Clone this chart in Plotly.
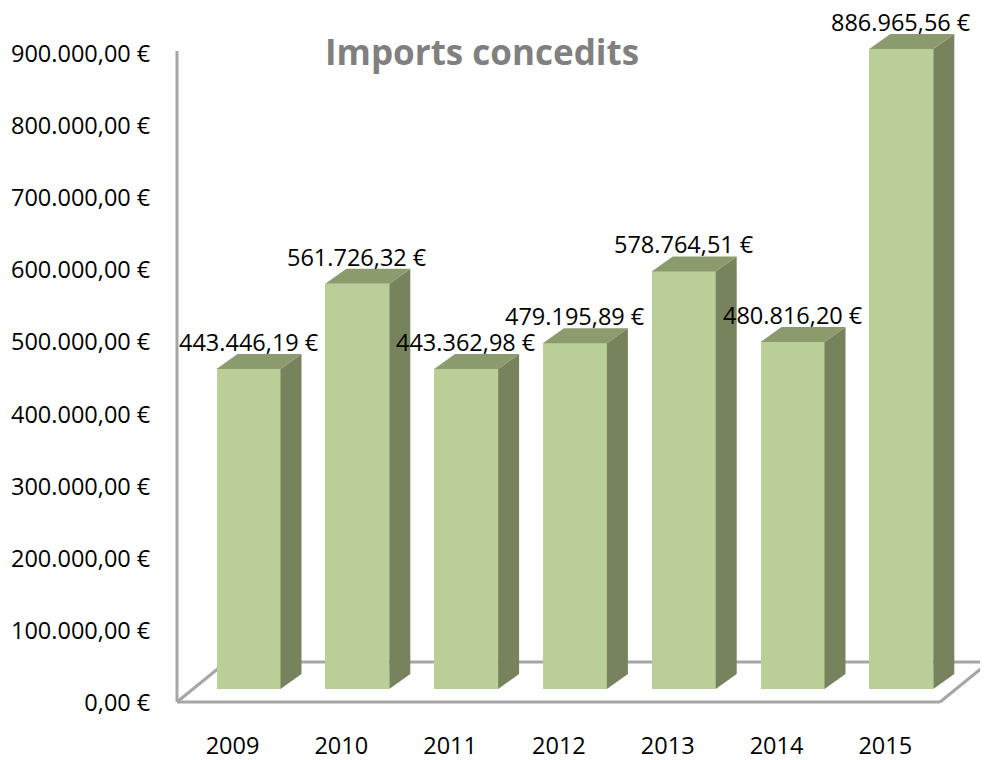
import plotly.graph_objects as go

years = ["2009", "2010", "2011", "2012", "2013", "2014", "2015"]
values = [443446.19, 561726.32, 443362.98, 479195.89, 578764.51, 480816.20, 886965.56]
title_text = "Imports concedits"
y_ticks = [0, 100000, 200000, 300000, 400000, 500000, 600000, 700000, 800000, 900000]

OFF = 8  # page body margin of the html page
W, H = 988 - OFF, 760 - OFF
ML, MR, MT, MB = 152, 0, 0, 42
PW, PH = W - ML - MR, H - MT - MB

# pixel geometry (figure pixels) of the pseudo-3D projection
X0, XSTEP = 248.5 - OFF, 108.8   # px of first category centre, px per category
Y0, K = 689.0 - OFF, 0.0007215   # px of value 0 (front plane), px per euro
Y0_AXIS = 703.0 - OFF            # px of value 0 for axis labels (front edge)


def px2x(px):
    return (px - OFF - X0) / XSTEP


def px2y(py):
    return (Y0 - (py - OFF)) / K


x_range = [(ML - X0) / XSTEP, (ML + PW - X0) / XSTEP]
y_range = [(Y0 - (MT + PH)) / K, (Y0 - MT) / K]
y2_range = [(Y0_AXIS - (MT + PH)) / K, (Y0_AXIS - MT) / K]

BAR_W = 64 / XSTEP
DX = 21 / XSTEP
DY = 15 / K

FRONT = "#BACF97"
SIDE = "#77835D"
TOP = "#8C9B6E"
LINE = "#A6A6A6"
FONT = "Open Sans"
FS = 23.5


def fmt(v):
    s = f"{v:,.2f}"
    return s.replace(",", "X").replace(".", ",").replace("X", ".") + " €"


fig = go.Figure()
idx = list(range(len(years)))

fig.add_trace(go.Bar(x=idx, y=values, width=BAR_W, marker=dict(color=FRONT, line=dict(width=0)),
                     hoverinfo="skip", showlegend=False))

for i, v in zip(idx, values):
    xl, xr = i - BAR_W / 2, i + BAR_W / 2
    # side face
    fig.add_trace(go.Scatter(x=[xr, xr, xr + DX, xr + DX, xr], y=[0, v, v + DY, DY, 0],
                             fill="toself", fillcolor=SIDE, mode="lines", line=dict(width=0, color=SIDE),
                             hoverinfo="skip", showlegend=False))
    # top face
    fig.add_trace(go.Scatter(x=[xl, xr, xr + DX, xl + DX, xl], y=[v, v, v + DY, v + DY, v],
                             fill="toself", fillcolor=TOP, mode="lines", line=dict(width=0, color=TOP),
                             hoverinfo="skip", showlegend=False))
    fig.add_annotation(x=i, y=v, xref="x", yref="y", text=fmt(v), showarrow=False,
                       yshift=27, yanchor="middle", xanchor="center",
                       font=dict(family=FONT, size=FS, color="#000000"))

# invisible trace to carry the label axis
fig.add_trace(go.Scatter(x=[0], y=[0], yaxis="y2", mode="markers", marker=dict(opacity=0),
                         hoverinfo="skip", showlegend=False))


# walls / floor outline (reference pixel positions)
def seg(p1, p2):
    fig.add_shape(type="line", xref="x", yref="y", layer="below",
                  x0=px2x(p1[0]), y0=px2y(p1[1]), x1=px2x(p2[0]), y1=px2y(p2[1]),
                  line=dict(color=LINE, width=3))


seg((177, 51), (177, 702))
seg((177, 702), (940, 702))
seg((177, 702), (225, 663))
seg((940, 702), (988, 663))
seg((225, 662), (988, 662))

fig.add_annotation(xref="paper", yref="paper", x=(481.5 - OFF - ML) / PW, y=1 - (51 - OFF - MT) / PH,
                   text=f"<b>{title_text}</b>", showarrow=False, xanchor="center", yanchor="middle",
                   font=dict(family=FONT, size=35, color="#808080"))

fig.update_layout(
    width=W, height=H,
    margin=dict(l=ML, r=MR, t=MT, b=MB, autoexpand=False),
    paper_bgcolor="white", plot_bgcolor="white",
    separators=",.",
    bargap=0,
    xaxis=dict(range=x_range, tickvals=[i - 16 / XSTEP for i in idx], ticktext=years,
               showgrid=False, zeroline=False, showline=False, automargin=False,
               ticks="outside", ticklen=7, tickcolor="rgba(0,0,0,0)",
               tickfont=dict(family=FONT, size=FS, color="#000000")),
    yaxis=dict(range=y_range, visible=False, showgrid=False, zeroline=False, automargin=False),
    yaxis2=dict(range=y2_range, overlaying="y", side="left", anchor="x", automargin=False,
                tickvals=y_ticks, ticktext=[fmt(t) for t in y_ticks],
                showgrid=False, zeroline=False, showline=False, ticks="outside",
                ticklen=4, tickcolor="rgba(0,0,0,0)",
                tickfont=dict(family=FONT, size=FS, color="#000000")),
)

fig.write_html("out.html")
